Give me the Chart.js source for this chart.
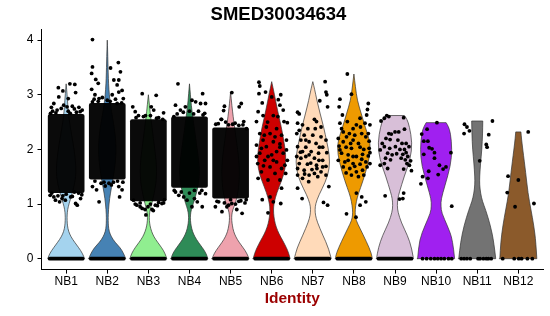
<!DOCTYPE html>
<html>
<head>
<meta charset="utf-8">
<script src="https://cdn.jsdelivr.net/npm/chart.js@4"></script>
<style>
  html, body { margin: 0; padding: 0; background: #fff; }
  #wrap { width: 550px; height: 316px; }
</style>
</head>
<body>
<div id="wrap"><canvas id="vln"></canvas></div>
<script>
// Violin plot of SMED30034634 expression per cluster (NB1..NB12)
const categories = ['NB1', 'NB2', 'NB3', 'NB4', 'NB5', 'NB6', 'NB7', 'NB8', 'NB9', 'NB10', 'NB11', 'NB12'];
const yTicks = [0, 1, 2, 3, 4];

// violin outlines: [expression, relative half width]
const violinNB1 = [[0,1],[0.1,0.88],[0.2,0.68],[0.3,0.46],[0.4,0.26],[0.5,0.13],[0.6,0.07],[0.7,0.05],[0.8,0.05],[0.9,0.08],[1.0,0.15],[1.2,0.33],[1.4,0.48],[1.6,0.54],[1.8,0.5],[2.0,0.43],[2.2,0.33],[2.4,0.23],[2.6,0.14],[2.8,0.09],[3.0,0.05],[3.2,0]];
const violinNB2 = [[0,1],[0.1,0.88],[0.2,0.7],[0.3,0.42],[0.4,0.22],[0.5,0.1],[0.6,0.06],[0.7,0.05],[0.8,0.05],[1.0,0.09],[1.2,0.17],[1.4,0.28],[1.6,0.38],[1.8,0.45],[2.0,0.48],[2.2,0.45],[2.4,0.38],[2.6,0.28],[2.8,0.18],[3.0,0.11],[3.2,0.07],[3.4,0.05],[3.6,0.035],[3.8,0.02],[4.0,0]];
const violinNB3 = [[0,1],[0.1,0.9],[0.2,0.72],[0.3,0.5],[0.4,0.3],[0.5,0.17],[0.6,0.09],[0.7,0.05],[0.8,0.05],[0.9,0.1],[1.0,0.18],[1.2,0.32],[1.4,0.42],[1.6,0.45],[1.8,0.42],[2.0,0.35],[2.2,0.27],[2.4,0.2],[2.6,0.12],[2.8,0.06],[3.0,0]];
const violinNB4 = [[0,1],[0.1,0.9],[0.2,0.7],[0.3,0.48],[0.4,0.29],[0.5,0.16],[0.6,0.09],[0.7,0.05],[0.8,0.05],[0.9,0.1],[1.0,0.2],[1.2,0.38],[1.4,0.5],[1.6,0.55],[1.8,0.5],[2.0,0.42],[2.2,0.34],[2.4,0.26],[2.6,0.18],[2.8,0.1],[3.0,0.05],[3.2,0]];
const violinNB5 = [[0,1],[0.1,0.88],[0.2,0.68],[0.3,0.46],[0.4,0.28],[0.5,0.16],[0.6,0.1],[0.7,0.06],[0.8,0.06],[0.9,0.12],[1.0,0.25],[1.2,0.4],[1.4,0.46],[1.6,0.48],[1.8,0.45],[2.0,0.38],[2.2,0.3],[2.4,0.22],[2.6,0.14],[2.8,0.07],[3.05,0]];
const violinNB6 = [[0,1],[0.1,0.92],[0.2,0.8],[0.33,0.6],[0.45,0.4],[0.58,0.24],[0.7,0.15],[0.83,0.1],[0.95,0.1],[1.05,0.15],[1.2,0.27],[1.44,0.55],[1.65,0.74],[1.9,0.77],[2.17,0.65],[2.41,0.52],[2.72,0.31],[3.02,0.14],[3.24,0]];
const violinNB7 = [[0,1],[0.19,0.86],[0.43,0.54],[0.67,0.24],[0.8,0.14],[0.9,0.12],[1.0,0.15],[1.16,0.32],[1.4,0.68],[1.64,0.9],[1.9,0.9],[2.15,0.75],[2.39,0.6],[2.65,0.4],[2.9,0.22],[3.1,0.1],[3.24,0]];
const violinNB8 = [[0,1],[0.1,0.95],[0.31,0.68],[0.56,0.32],[0.7,0.12],[0.8,0.07],[0.9,0.07],[1.05,0.13],[1.2,0.25],[1.41,0.48],[1.78,0.8],[2.02,0.9],[2.2,0.82],[2.39,0.63],[2.65,0.4],[2.9,0.18],[3.15,0.08],[3.38,0]];
const violinNB9 = [[0,1],[0.2,0.9],[0.42,0.68],[0.66,0.34],[0.85,0.16],[0.97,0.12],[1.1,0.15],[1.21,0.23],[1.51,0.5],[1.82,0.83],[2.12,0.93],[2.42,0.78],[2.55,0.65],[2.62,0.51]];
const violinNB10 = [[0,1],[0.35,0.9],[0.6,0.61],[0.84,0.3],[0.96,0.26],[1.09,0.27],[1.33,0.47],[1.7,0.78],[2.0,0.86],[2.3,0.78],[2.42,0.66],[2.49,0.54]];
const violinNB11 = [[0,1],[0.3,0.9],[0.6,0.72],[0.9,0.45],[1.05,0.28],[1.2,0.18],[1.35,0.13],[1.5,0.13],[1.75,0.18],[2.0,0.25],[2.29,0.29],[2.52,0.3]];
const violinNB12 = [[0,1],[0.3,0.95],[0.6,0.84],[0.9,0.68],[1.2,0.52],[1.57,0.4],[2.0,0.24],[2.2,0.17],[2.32,0.14]];

// dense cell clouds (solid band of overlapping dots): low / high expression
const cloudLow  = [1.2, 1.45, 1.05, 1.3, 1.1, null, null, null, null, null, null, null];
const cloudHigh = [2.65, 2.85, 2.55, 2.6, 2.4, null, null, null, null, null, null, null];
// clusters whose zero-expression cells form a continuous row
const zeroRow = [true, true, true, true, true, true, true, true, true, false, false, false];

// individual cells: [jitter, expression]
const pointsNB1 = [[-0.19,3.13],[-0.08,3.07],[0.09,3.2],[0.21,3.19],[0.23,3.04],[0.05,2.93],[-0.18,2.96],[-0.3,2.84],[-0.36,2.77],[-0.06,2.81],[0.15,2.79],[0.31,2.77],[0.39,2.72],[-0.22,2.72],[-0.38,2.66],[0.05,2.7],[0.25,2.68],
  [-0.33,2.7],[-0.12,2.75],[0.02,2.78],[0.2,2.74],[0.34,2.69],[-0.25,2.67],[0.1,2.66],
  [-0.39,1.16],[-0.26,1.07],[-0.16,1.04],[0.23,1.01],[0.35,1.1],[0.27,0.98],[-0.3,1.13],[0.11,1.13],[-0.02,1.07],[0.38,1.17],[-0.08,1.15],
  [-0.35,1.2],[-0.2,1.15],[0.0,1.18],[0.15,1.14],[0.3,1.2],[-0.1,1.1],[0.2,1.22]];
const pointsNB2 = [[-0.36,4.01],[-0.36,3.51],[-0.38,3.39],[0.08,3.49],[0.27,3.59],[0.32,3.42],[-0.28,3.28],[-0.22,3.21],[0.16,3.27],[0.28,3.27],[0.24,3.18],[0.28,3.05],[0.36,3.08],[-0.38,3.1],[-0.3,3.0],[-0.2,2.93],[0.12,3.0],[0.39,2.93],[-0.36,2.87],[0.24,2.84],[0.0,2.9],
  [-0.32,2.92],[-0.12,2.95],[0.07,2.88],[0.2,2.92],[0.35,2.85],[-0.22,2.88],
  [-0.36,1.32],[0.28,1.32],[0.36,1.26],[-0.2,1.04],[0.3,1.13],[0.04,1.38],[-0.26,1.26],[-0.08,1.4],[0.15,1.4],
  [-0.3,1.42],[-0.15,1.38],[0.1,1.35],[0.25,1.42],[0.38,1.4],[-0.05,1.33]];
const pointsNB3 = [[-0.15,3.02],[0.19,2.99],[-0.38,2.78],[-0.32,2.69],[0.07,2.78],[0.13,2.72],[0.37,2.67],[-0.24,2.62],[-0.07,2.62],[0.25,2.58],
  [-0.3,2.58],[-0.12,2.6],[0.05,2.62],[0.2,2.57],[0.35,2.55],
  [-0.28,0.98],[-0.15,0.92],[-0.01,0.95],[0.17,0.98],[0.33,1.01],[-0.36,1.07],[0.39,1.08],[-0.06,0.8],[0.09,0.9],[0.25,1.03],[-0.2,1.02],
  [-0.32,1.0],[-0.2,0.95],[0.05,1.0],[0.22,0.97],[0.37,1.02],[-0.08,0.9],[0.12,0.88]];
const pointsNB4 = [[-0.28,3.2],[0.32,3.02],[-0.34,2.81],[-0.22,2.72],[0.15,2.87],[0.27,2.84],[0.39,2.84],[-0.1,2.78],[0.06,2.9],[-0.38,2.6],[0.37,2.66],[0.0,2.7],
  [-0.3,2.65],[-0.15,2.68],[0.1,2.65],[0.22,2.7],[0.33,2.63],
  [-0.34,1.22],[-0.26,1.16],[-0.14,1.13],[0.06,0.95],[0.31,0.95],[0.19,1.04],[0.39,1.19],[-0.06,1.07],[0.25,1.2],
  [-0.37,1.25],[-0.2,1.22],[0.0,1.2],[0.12,1.25],[0.3,1.25],[0.12,1.1]];
const pointsNB5 = [[0.03,3.04],[0.26,2.84],[0.21,2.78],[-0.15,2.79],[-0.17,2.71],[-0.23,2.55],[-0.36,2.46],[0.32,2.51],[0.11,2.48],[-0.05,2.45],[0.39,2.38],
  [-0.3,2.47],[-0.12,2.5],[0.05,2.46],[0.2,2.44],[0.3,2.45],[-0.22,2.55],
  [-0.37,0.95],[-0.21,0.86],[0.15,0.9],[0.28,0.83],[-0.09,0.95],[0.03,1.01],[-0.29,1.04],[0.35,1.02],[0.2,1.05],
  [-0.33,1.05],[-0.15,1.02],[0.0,1.08],[0.12,1.0],[0.25,1.06],[0.38,1.08],[-0.05,0.98]];
const pointsNB6 = [[-0.31,3.23],[-0.29,3.16],[-0.31,3.02],[-0.15,3.05],[0.0,2.96],[0.22,3.0],[-0.23,2.85],[0.16,2.91],[-0.33,2.69],[0.2,2.81],[0.28,2.72],[-0.21,2.62],[0.04,2.62],[0.3,2.51],[0.38,2.49],[-0.37,2.51],[-0.13,2.41],[0.12,2.38],[-0.29,2.29],[-0.04,2.29],[0.24,2.26],[-0.21,2.17],[0.04,2.14],[0.36,2.17],[-0.37,2.08],[-0.13,2.05],[0.2,2.04],[-0.29,1.93],[0.0,1.9],[0.28,1.93],[-0.17,1.8],[0.12,1.77],[0.38,1.8],[-0.34,1.74],[-0.04,1.68],[0.24,1.65],[-0.25,1.59],[0.08,1.56],[0.34,1.56],[-0.33,1.47],[-0.09,1.44],[0.2,1.44],[0.24,1.29],[-0.23,1.08],[-0.04,1.13],[0.04,1.04],[0.22,1.01],[-0.09,0.84],
  [-0.18,2.26],[0.08,2.23],[-0.25,2.02],[0.12,1.96],[-0.09,1.87],[0.36,1.99],[-0.37,1.87],[0.04,1.8],[0.32,1.71],[-0.1,2.5],[0.15,2.6],[-0.2,1.7],[0.2,2.1]];
const pointsNB7 = [[0.3,3.24],[0.32,3.05],[0.34,3.0],[0.17,2.89],[0.36,2.78],[-0.37,2.68],[-0.33,2.65],[0.04,2.55],[0.09,2.51],[-0.37,2.48],[-0.25,2.45],[-0.12,2.38],[-0.33,2.35],[0.2,2.41],[-0.39,2.29],[-0.21,2.26],[0.0,2.26],[0.2,2.23],[0.32,2.17],[-0.29,2.17],[-0.09,2.14],[0.08,2.11],[-0.37,2.05],[-0.17,2.04],[0.24,2.04],[-0.25,1.96],[-0.04,1.96],[0.14,1.93],[0.34,1.94],[-0.39,1.87],[-0.17,1.87],[0.04,1.84],[0.24,1.8],[-0.33,1.74],[-0.13,1.73],[0.09,1.71],[0.32,1.69],[-0.37,1.65],[-0.21,1.62],[-0.02,1.63],[0.2,1.59],[-0.09,1.53],[0.12,1.5],[-0.25,1.47],[-0.37,1.53],[0.32,1.53],[-0.1,1.41],[-0.37,1.29],[0.39,1.32],[-0.26,1.1],[0.26,1.03],[0.36,0.98],
  [-0.09,1.9],[0.16,2.04],[-0.29,1.84],[0.04,1.56],[0.24,1.68],[-0.17,2.17],[0.06,2.38],[-0.05,1.75],[0.15,1.8],[-0.2,1.55],[0.1,1.65],[-0.3,1.95]];
const pointsNB8 = [[-0.16,3.38],[-0.06,3.01],[0.35,2.84],[-0.34,2.92],[0.33,2.73],[-0.36,2.78],[-0.28,2.63],[0.31,2.63],[0.15,2.57],[-0.34,2.48],[-0.16,2.51],[0.06,2.45],[0.27,2.48],[-0.26,2.32],[-0.11,2.29],[0.19,2.29],[0.37,2.15],[-0.38,2.2],[-0.02,2.17],[0.11,2.11],[-0.36,2.06],[-0.19,2.04],[-0.06,2.02],[0.24,2.0],[0.37,2.02],[-0.3,1.93],[-0.14,1.9],[0.06,1.87],[0.21,1.91],[0.35,1.88],[-0.38,1.8],[-0.22,1.77],[-0.02,1.74],[0.15,1.73],[0.29,1.77],[-0.1,1.65],[0.06,1.59],[0.21,1.62],[0.32,1.68],[-0.26,1.68],[0.11,1.5],[-0.06,1.53],[0.06,1.2],[0.19,1.13],[0.29,1.04],[0.15,0.98],[-0.18,0.82],[0.05,0.76],
  [-0.18,2.23],[0.02,2.26],[0.29,2.23],[-0.08,2.11],[0.15,2.04],[-0.26,2.14],[0.39,1.94],[-0.02,1.87],[-0.34,1.99],[0.19,1.82],[-0.14,1.8],[0.39,1.74],[0.02,1.69],[0.24,1.53],[-0.19,1.57],[0.35,2.29],[-0.3,2.38],[-0.02,2.38],[0.16,2.41],[0.39,2.45]];
const pointsNB9 = [[-0.2,2.62],[-0.15,2.6],[-0.26,2.57],[-0.34,2.52],[0.21,2.58],[-0.15,2.29],[-0.09,2.28],[0.0,2.32],[0.09,2.32],[0.23,2.37],[-0.22,2.2],[-0.12,2.18],[0.07,2.17],[0.17,2.11],[0.27,2.11],[-0.31,2.11],[-0.36,1.99],[-0.26,2.05],[-0.13,2.02],[0.01,2.05],[0.12,2.0],[0.23,2.0],[0.34,2.05],[-0.18,1.93],[-0.07,1.9],[0.04,1.92],[0.19,1.91],[0.27,1.94],[-0.23,1.84],[-0.11,1.81],[0.15,1.84],[0.25,1.81],[0.31,1.87],[0.38,1.79],[-0.26,1.74],[-0.36,1.71],[0.29,1.74],[0.35,1.71],[-0.18,1.65],[0.21,1.64],[0.4,1.61],[-0.24,1.15],[0.11,1.09],[0.19,1.1],[0.21,1.2]];
const pointsNB10 = [[0.02,2.49],[-0.35,2.28],[-0.22,2.37],[-0.3,2.15],[-0.2,2.15],[-0.17,2.03],[-0.1,2.01],[-0.3,1.91],[-0.04,1.94],[0.36,1.94],[-0.04,1.84],[0.08,1.71],[0.24,1.68],[0.17,1.64],[-0.18,1.6],[0.05,1.54],[-0.33,1.5],[-0.2,1.47],[-0.37,1.37],[0.38,0.96],
  [-0.33,0],[-0.23,0],[-0.13,0],[-0.04,0],[0.04,0],[0.12,0],[0.2,0],[0.3,0],[0.38,0]];
const pointsNB11 = [[-0.31,2.46],[-0.25,2.41],[-0.19,2.34],[-0.32,2.29],[0.37,2.52],[0.28,2.27],[0.22,2.09],[0.24,2.04],[0.06,1.79],
  [-0.39,0],[-0.32,0],[-0.25,0],[-0.17,0],[0.02,0],[0.07,0],[0.15,0],[0.22,0],[0.27,0],[0.34,0]];
const pointsNB12 = [[0.24,2.32],[-0.25,1.51],[0.0,1.44],[-0.27,1.21],[0.38,1.01],[-0.08,0.95],
  [-0.38,0],[-0.1,0],[0.01,0],[0.08,0],[0.22,0],[0.34,0]];

const violins = [violinNB1, violinNB2, violinNB3, violinNB4, violinNB5, violinNB6, violinNB7, violinNB8, violinNB9, violinNB10, violinNB11, violinNB12];
const points = [pointsNB1, pointsNB2, pointsNB3, pointsNB4, pointsNB5, pointsNB6, pointsNB7, pointsNB8, pointsNB9, pointsNB10, pointsNB11, pointsNB12];

const fills = ['#A4D3EE', '#4682B4', '#90EE90', '#2E8B57', '#EEA2AD', '#CD0000', '#FFDAB9', '#EE9A00', '#D8BFD8', '#A020F0', '#737373', '#8B5A2B'];
const HALF = 0.45;   // max violin half width (category units)
const JIT = 0.4;     // jitter half width
const DOT = 1.9;     // dot radius px

Chart.defaults.font.family = '"Liberation Sans", Arial, Helvetica, sans-serif';
Chart.defaults.color = '#000';

const violinPlugin = {
  id: 'violins',
  beforeDatasetsDraw(chart) {
    const xs = chart.scales.x, ys = chart.scales.y, c = chart.ctx;
    c.save();
    violins.forEach((prof, i) => {
      const cx = i + 1;
      const R = prof.map(([v, w]) => [xs.getPixelForValue(cx + w * HALF), ys.getPixelForValue(v)]);
      const L = prof.map(([v, w]) => [xs.getPixelForValue(cx - w * HALF), ys.getPixelForValue(v)]).reverse();
      const n = R.length;
      c.beginPath();
      c.moveTo(L[n - 1][0], L[n - 1][1]);
      c.lineTo(R[0][0], R[0][1]);
      for (let k = 1; k < n - 1; k++) {
        c.quadraticCurveTo(R[k][0], R[k][1], (R[k][0] + R[k + 1][0]) / 2, (R[k][1] + R[k + 1][1]) / 2);
      }
      c.lineTo(R[n - 1][0], R[n - 1][1]);
      c.lineTo(L[0][0], L[0][1]);
      for (let k = 1; k < n - 1; k++) {
        c.quadraticCurveTo(L[k][0], L[k][1], (L[k][0] + L[k + 1][0]) / 2, (L[k][1] + L[k + 1][1]) / 2);
      }
      c.lineTo(L[n - 1][0], L[n - 1][1]);
      c.closePath();
      c.fillStyle = fills[i];
      c.fill();
      c.strokeStyle = '#333';
      c.lineWidth = 0.7;
      c.stroke();

      // dense cloud of overlapping cells
      if (cloudLow[i] != null) {
        const x0 = xs.getPixelForValue(cx - JIT) - DOT, x1 = xs.getPixelForValue(cx + JIT) + DOT;
        const y0 = ys.getPixelForValue(cloudHigh[i]), y1 = ys.getPixelForValue(cloudLow[i]);
        c.fillStyle = 'rgba(0,0,0,0.96)';
        c.beginPath();
        c.roundRect(x0, y0, x1 - x0, y1 - y0, 2);
        c.fill();
      }
      // row of zero-expression cells
      if (zeroRow[i]) {
        c.strokeStyle = '#000';
        c.lineWidth = DOT * 2;
        c.lineCap = 'round';
        c.beginPath();
        c.moveTo(xs.getPixelForValue(cx - JIT), ys.getPixelForValue(0));
        c.lineTo(xs.getPixelForValue(cx + JIT), ys.getPixelForValue(0));
        c.stroke();
      }
    });
    c.restore();
  }
};

const cells = points.flatMap((pts, i) => pts.map(([dx, v]) => ({ x: i + 1 + dx, y: v })));

new Chart(document.getElementById('vln'), {
  type: 'scatter',
  data: {
    datasets: [{
      data: cells,
      pointRadius: DOT,
      pointBorderWidth: 0,
      pointBackgroundColor: '#000',
      pointHoverRadius: DOT
    }]
  },
  options: {
    responsive: true,
    maintainAspectRatio: false,
    animation: false,
    events: [],
    layout: { padding: { left: 14, right: 7, top: 0, bottom: 0 } },
    plugins: {
      legend: { display: false },
      tooltip: { enabled: false },
      title: {
        display: true,
        text: 'SMED30034634',
        font: { size: 18.5, weight: 'bold' },
        color: '#000',
        padding: { top: 4, bottom: 3 }
      }
    },
    scales: {
      x: {
        type: 'linear',
        min: 0.4,
        max: 12.6,
        afterBuildTicks: s => { s.ticks = categories.map((_, i) => ({ value: i + 1 })); },
        afterFit: s => { s.height = 46.4; },
        ticks: {
          autoSkip: false,
          maxRotation: 0,
          padding: 1,
          font: { size: 12 },
          color: '#000',
          callback: v => categories[v - 1]
        },
        grid: { display: true, drawOnChartArea: false, drawTicks: true, tickLength: 4, color: '#000' },
        border: { display: true, color: '#000', width: 1 },
        title: {
          display: true,
          text: 'Identity',
          color: '#9B0000',
          font: { size: 15.5, weight: 'bold' },
          padding: { top: 0, bottom: 8 }
        }
      },
      y: {
        min: -0.2,
        max: 4.2,
        afterBuildTicks: s => { s.ticks = yTicks.map(v => ({ value: v })); },
        afterFit: s => { s.width = 27.5; },
        ticks: { padding: 4, font: { size: 12 }, color: '#000' },
        grid: { display: true, drawOnChartArea: false, drawTicks: true, tickLength: 4, color: '#000' },
        border: { display: true, color: '#000', width: 1 }
      }
    }
  },
  plugins: [violinPlugin]
});
</script>
</body>
</html>
